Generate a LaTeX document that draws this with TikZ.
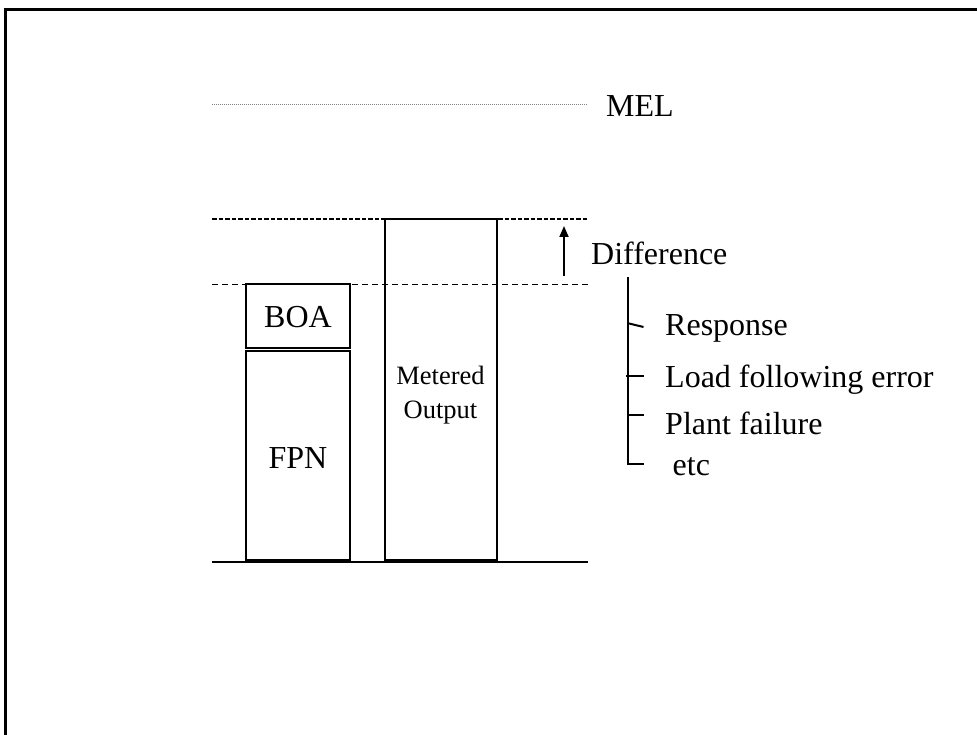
\documentclass[tikz,border=0pt]{standalone}
\usepackage{fontspec}
\setmainfont{Liberation Serif}
\usetikzlibrary{arrows.meta}
\begin{document}
\begin{tikzpicture}[x=1pt,y=-1pt,
  bigtext/.style={font=\fontsize{32}{36}\selectfont, inner sep=0pt},
  smalltext/.style={font=\fontsize{26.5}{34}\selectfont, inner sep=0pt, align=center},
  bar/.style={draw, line width=2pt, inner sep=0pt},
  listtick/.style={line width=2pt},
]
\useasboundingbox (0,0) rectangle (977,735);
% outer frame (top and left edges)
\draw[line width=3pt] (5,735) -- (5,9.5) -- (977,9.5);

% reference levels
\coordinate (melL) at (212,104.3);
\coordinate (melR) at (588,104.3);
\draw[gray, line width=1pt, dash pattern=on 1pt off 1pt] (melL) -- (melR);
\node[bigtext, anchor=base west] (mel) at (606,116.5) {MEL};

\coordinate (hiL) at (212,219);
\coordinate (hiR) at (588,219);
\coordinate (loL) at (212,284.3);
\coordinate (loR) at (588,284.3);
\coordinate (baseL) at (212,562);
\coordinate (baseR) at (588,562);

\draw[line width=1pt, dash pattern=on 6pt off 4pt] (loL) -- (loR);

% bars
\node[bar, minimum width=104pt, minimum height=63.7pt] (boa) at (298,316.2) {};
\node[bigtext, anchor=base] (boalbl) at (298,327.3) {BOA};
\node[bar, minimum width=104pt, minimum height=209pt] (fpn) at (298,455.5) {};
\node[bigtext, anchor=base] (fpnlbl) at (298,468) {FPN};
\node[bar, minimum width=112pt, minimum height=341pt] (meter) at (440.5,389.5) {};
\node[smalltext, anchor=base] (meterlbl) at (440.5,418.3) {Metered\\Output};

\draw[line width=2pt, dash pattern=on 4.5pt off 2pt] (hiL) -- (hiR);
\draw[line width=2pt] (baseL) -- (baseR);

% difference arrow and label
\coordinate (arrA) at (564,276);
\coordinate (arrB) at (564,226);
\draw[line width=1.8pt, -{Triangle[length=11pt,width=9pt]}] (arrA) -- (arrB);
\node[bigtext, anchor=base west] (diff) at (591,265) {Difference};

% list of causes
\coordinate (brTop) at (628.3,277);
\coordinate (brBot) at (628.3,463.5);
\coordinate (brEnd) at (644,463.5);
\draw[listtick] (brTop) -- (brBot) -- (brEnd);
\node[bigtext, anchor=base west] (resp) at (665,335.7) {Response};
\node[bigtext, anchor=base west] (load) at (665,387) {Load following error};
\node[bigtext, anchor=base west] (plant) at (665,434) {Plant failure};
\node[bigtext, anchor=base west] (etc) at (672.5,475) {etc};
\draw[listtick] (628.3,323.3) -- (643.5,327);
\draw[listtick] (626,376) -- (643.5,376);
\draw[listtick] (628.3,415) -- (644,415);
\end{tikzpicture}
\end{document}
